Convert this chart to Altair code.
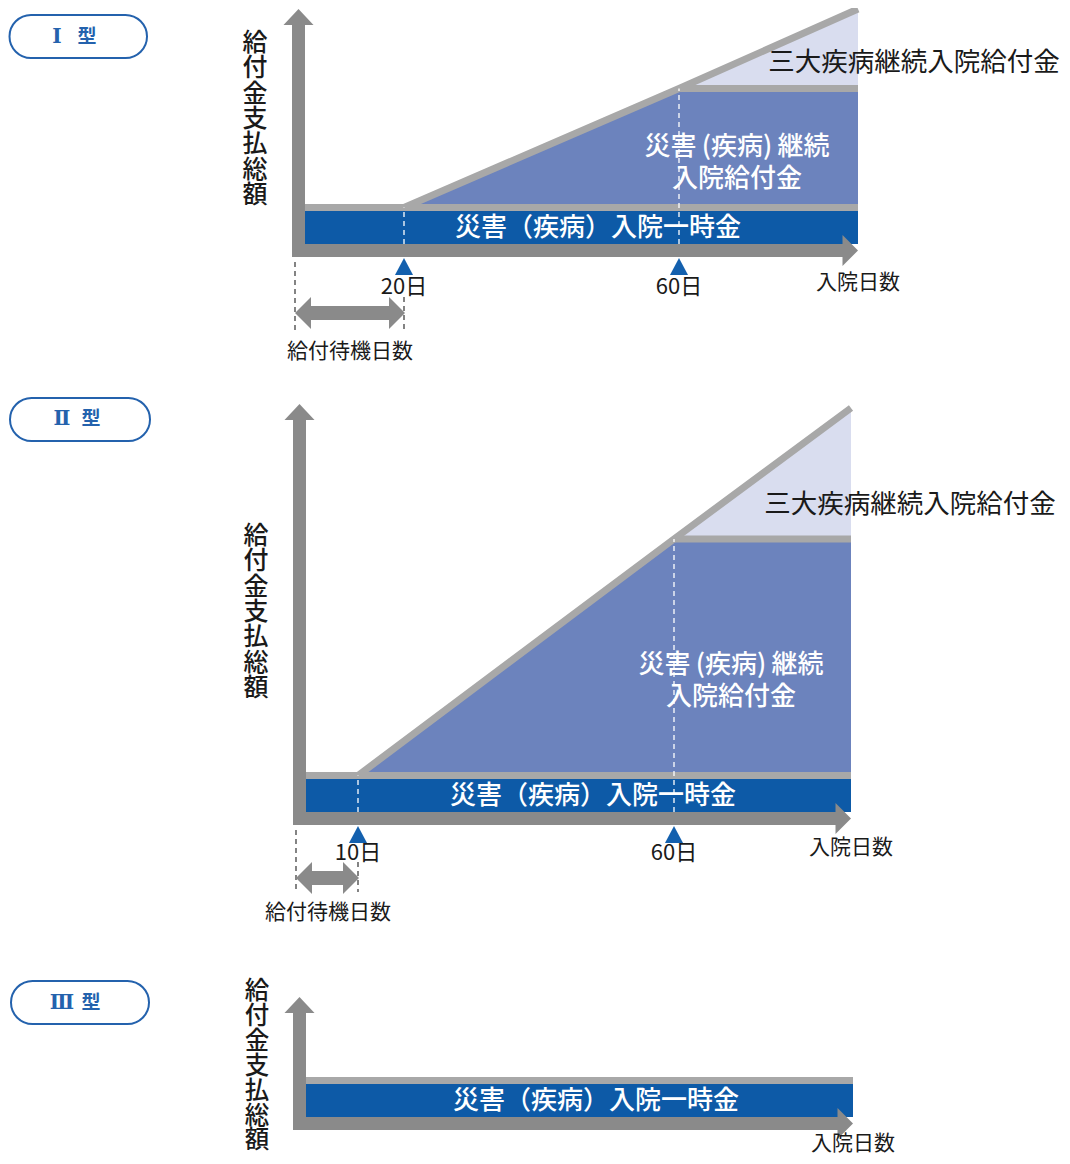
import altair as alt
import pandas as pd

# ---------------- data ----------------
type_numerals = ["Ⅰ", "Ⅱ", "Ⅲ"]
type_suffix = "型"
wait_days = [20, 10, None]          # 給付待機日数
wait_labels = ["20日", "10日", None]
cont_day = 60                        # 三大疾病継続入院給付金 starts
cont_label = "60日"
end_day = 90                         # right end of the schematic
lump_level = [10, 10, 10]            # 災害（疾病）入院一時金
level_day60 = [42.6, 74.8, None]     # 一時金 + 継続入院給付金 at day 60
level_end = [64.4, 110.7, None]      # total at the right end
axis_top = [60.0, 107.4, 28.5]       # length of the vertical axis arrow

label_lump = "災害（疾病）入院一時金"
label_cont = ["災害\u2009(疾病)\u2009継続", "入院給付金"]
label_three = "三大疾病継続入院給付金"
label_yaxis = "給付金支払総額"
label_xaxis = "入院日数"
label_wait = "給付待機日数"

# ---------------- style / layout ----------------
FONT = "Noto Sans CJK JP"
C_BAND = "#0d5aa7"
C_CONT = "#6c83bd"
C_THREE = "#d9ddef"
C_SEP = "#a8a8a8"
C_AXIS = "#8a8a8a"
C_MARK = "#1360ae"
C_BADGE = "#2462ad"
C_TEXT = "#1a1a1a"
PX_PER_UNIT = 3.65
MARGIN = 8

LAYOUT = [
    dict(x_px=[305, 404, 679, 858], base=244, badge=[9.5, 147, 15, 58], num_x=57, kata_x=87, badge_y=37,
         ylab=[255, 31], ylab_font=25, ylab_lh=25.3, three=[914, 63], cont=[737, 147, 179], lump=[598, 228],
         xlab_dy=39, day_dy=43, arrow_dy=69, wait_text=[350, 352], dash0=[18, 88], dashw=[53, 88]),
    dict(x_px=[306, 358, 674, 851], base=812, badge=[10, 150, 398, 441], num_x=62, kata_x=91, badge_y=419,
         ylab=[256, 524], ylab_font=25, ylab_lh=25.3, three=[910, 505], cont=[731, 665, 697], lump=[593, 796],
         xlab_dy=36, day_dy=41, arrow_dy=66, wait_text=[328, 913], dash0=[18, 80], dashw=[50, 80]),
    dict(x_px=[306, 853], base=1117, badge=[11, 149, 981, 1024], num_x=62, kata_x=91, badge_y=1003,
         ylab=[257, 980], ylab_font=24.5, ylab_lh=24.9, lump=[596, 1101], xlab_dy=27),
]


def P(v):
    return v - MARGIN


def one():
    return pd.DataFrame({"k": [0]})


def text_at(txt, x, y, size, color=C_TEXT, weight="normal", font=FONT, **kw):
    return alt.Chart(one()).mark_text(
        text=txt, font=font, fontSize=size, color=color, fontWeight=weight,
        baseline=kw.pop("baseline", "middle"), align=kw.pop("align", "center"), **kw
    ).encode(x=alt.value(P(x)), y=alt.value(P(y)))


def panel(i):
    lay = LAYOUT[i]
    w = wait_days[i]
    L = lump_level[i]
    dom = [0, end_day] if w is None else [0, w, cont_day, end_day]
    xs = alt.Scale(domain=dom, range=[P(v) for v in lay["x_px"]], nice=False, zero=False)
    y0 = P(lay["base"])
    ys = alt.Scale(domain=[0, 100], range=[y0, y0 - 100 * PX_PER_UNIT], nice=False, zero=False)

    def X(f):
        return alt.X(f"{f}:Q", scale=xs, axis=None)

    def Y(f):
        return alt.Y(f"{f}:Q", scale=ys, axis=None)

    layers = []
    # lump-sum band
    band = pd.DataFrame({"day": [0, end_day], "top": [L, L], "bot": [0, 0]})
    layers.append(alt.Chart(band).mark_area(color=C_BAND, opacity=1)
                  .encode(x=X("day"), y=Y("top"), y2=alt.Y2("bot")))
    if w is not None:
        L60, LE = level_day60[i], level_end[i]
        cont = pd.DataFrame({"day": [w, cont_day, end_day], "top": [L, L60, L60], "bot": [L, L, L]})
        layers.append(alt.Chart(cont).mark_area(color=C_CONT, opacity=1)
                      .encode(x=X("day"), y=Y("top"), y2=alt.Y2("bot")))
        three = pd.DataFrame({"day": [cont_day, end_day], "top": [L60, LE], "bot": [L60, L60]})
        layers.append(alt.Chart(three).mark_area(color=C_THREE, opacity=1)
                      .encode(x=X("day"), y=Y("top"), y2=alt.Y2("bot")))
        lines = pd.DataFrame({
            "seg": ["total"] * 4 + ["sep"] * 2 + ["lev"] * 2,
            "ord": [0, 1, 2, 3, 0, 1, 0, 1],
            "day": [0, w, cont_day, end_day, 0, end_day, cont_day, end_day],
            "amt": [L, L, L60, LE, L, L, L60, L60],
        })
    else:
        lines = pd.DataFrame({"seg": ["sep", "sep"], "ord": [0, 1], "day": [0, end_day], "amt": [L, L]})
    layers.append(alt.Chart(lines).mark_line(color=C_SEP, strokeWidth=7, strokeCap="butt", strokeJoin="miter")
                  .encode(x=X("day"), y=Y("amt"), detail="seg:N", order="ord:Q"))

    if w is not None:
        wd = pd.DataFrame({"day": [w, cont_day], "lo": [0, 0], "hi": [L, level_day60[i]]})
        layers.append(alt.Chart(wd).mark_rule(color="white", strokeWidth=1.3, strokeDash=[5, 4])
                      .encode(x=X("day"), y=Y("lo"), y2=alt.Y2("hi")))

    # axes (thick arrows)
    ax = pd.DataFrame({"x0": [0], "x1": [end_day], "z": [0], "top": [axis_top[i]]})
    layers.append(alt.Chart(ax).mark_rect(color=C_AXIS, xOffset=-13, yOffset=13)
                  .encode(x=X("x0"), x2=alt.X2("x0"), y=Y("z"), y2=alt.Y2("top")))
    layers.append(alt.Chart(ax).mark_rect(color=C_AXIS, xOffset=-13, x2Offset=-15, yOffset=13)
                  .encode(x=X("x0"), x2=alt.X2("x1"), y=Y("z"), y2=alt.Y2("z")))
    layers.append(alt.Chart(ax).mark_point(shape="M-1,-1L0,0L-1,1Z", size=961, filled=True, opacity=1,
                                           color=C_AXIS, strokeWidth=0, yOffset=6.5)
                  .encode(x=X("x1"), y=Y("z")))
    layers.append(alt.Chart(ax).mark_point(shape="M-1,0L0,-1.07L1,0Z", size=900, filled=True, opacity=1,
                                           color=C_AXIS, strokeWidth=0, xOffset=-6.5)
                  .encode(x=X("x0"), y=Y("top")))
    layers.append(alt.Chart(ax).mark_text(text=label_xaxis, font=FONT, fontSize=21, color=C_TEXT,
                                          yOffset=lay["xlab_dy"], baseline="middle")
                  .encode(x=X("x1"), y=Y("z")))

    if w is not None:
        days = pd.DataFrame({"day": [w, cont_day], "z": [0, 0], "label": [wait_labels[i], cont_label]})
        layers.append(alt.Chart(days).mark_point(shape="M0,-0.95L1,0.95L-1,0.95Z", size=324, filled=True,
                                                 opacity=1, color=C_MARK, strokeWidth=0, yOffset=22.5)
                      .encode(x=X("day"), y=Y("z")))
        layers.append(alt.Chart(days).mark_text(font=FONT, fontSize=22, color=C_TEXT,
                                                yOffset=lay["day_dy"], baseline="middle")
                      .encode(x=X("day"), y=Y("z"), text="label:N"))
        wt = pd.DataFrame({"a": [0], "b": [w], "z": [0]})
        d0, dw = lay["dash0"], lay["dashw"]
        layers.append(alt.Chart(wt).mark_rule(color="#333333", strokeWidth=1.2, strokeDash=[5, 4],
                                              xOffset=-10, yOffset=d0[0], y2Offset=d0[1])
                      .encode(x=X("a"), y=Y("z"), y2=alt.Y2("z")))
        layers.append(alt.Chart(wt).mark_rule(color="#333333", strokeWidth=1.2, strokeDash=[5, 4],
                                              yOffset=dw[0], y2Offset=dw[1])
                      .encode(x=X("b"), y=Y("z"), y2=alt.Y2("z")))
        dy = lay["arrow_dy"]
        layers.append(alt.Chart(wt).mark_rect(color=C_AXIS, xOffset=4, x2Offset=-14,
                                              yOffset=dy - 7, y2Offset=dy + 7)
                      .encode(x=X("a"), x2=alt.X2("b"), y=Y("z"), y2=alt.Y2("z")))
        layers.append(alt.Chart(wt).mark_point(shape="M0,0L1,-1L1,1Z", size=1024, filled=True, opacity=1,
                                               color=C_AXIS, strokeWidth=0, xOffset=-10, yOffset=dy)
                      .encode(x=X("a"), y=Y("z")))
        layers.append(alt.Chart(wt).mark_point(shape="M0,0L-1,-1L-1,1Z", size=1024, filled=True, opacity=1,
                                               color=C_AXIS, strokeWidth=0, xOffset=1, yOffset=dy)
                      .encode(x=X("b"), y=Y("z")))
        layers.append(text_at(label_wait, lay["wait_text"][0], lay["wait_text"][1], 21))
        layers.append(text_at(label_three, lay["three"][0], lay["three"][1], 26.5))
        cx, cy1, cy2 = lay["cont"]
        layers.append(text_at(label_cont[0], cx, cy1, 26, color="white", weight=500))
        layers.append(text_at(label_cont[1], cx, cy2, 26, color="white", weight=500))

    layers.append(text_at(label_lump, lay["lump"][0], lay["lump"][1], 26, color="white", weight=500))

    # badge
    bx0, bx1, by0, by1 = lay["badge"]
    layers.append(alt.Chart(one()).mark_rect(cornerRadius=(by1 - by0) / 2, fill="white", stroke=C_BADGE,
                                             strokeWidth=2)
                  .encode(x=alt.value(P(bx0)), x2=alt.value(P(bx1)), y=alt.value(P(by0)), y2=alt.value(P(by1))))
    layers.append(text_at(type_numerals[i], lay["num_x"], lay["badge_y"], 20, color=C_BADGE, weight="bold",
                          font="DejaVu Serif"))
    layers.append(text_at(type_suffix, lay["kata_x"], lay["badge_y"], 19, color=C_BADGE, weight="bold"))

    # vertical y-axis title
    layers.append(text_at(list(label_yaxis), lay["ylab"][0], lay["ylab"][1], lay["ylab_font"], weight=500,
                          baseline="top", lineHeight=lay["ylab_lh"]))
    return layers


all_layers = []
for i in range(3):
    all_layers.extend(panel(i))

chart = alt.layer(*all_layers).resolve_scale(x="independent", y="independent").properties(
    width=1054, height=1148, padding=0,
    autosize=alt.AutoSizeParams(type="none"),
).configure_view(stroke=None)

chart.save("out.html", embed_options={"renderer": "svg", "actions": False})
